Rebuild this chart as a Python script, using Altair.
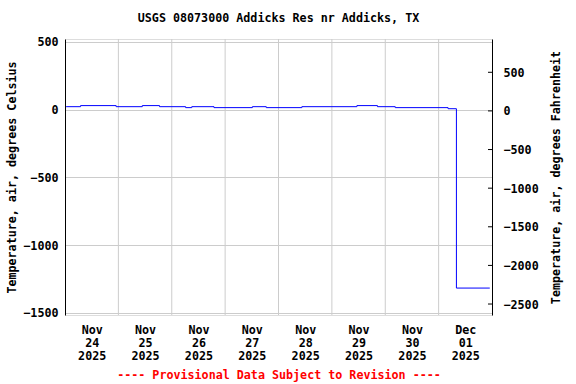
import altair as alt
import pandas as pd

# ---- data ----
times = [
    "2025-11-24T00:30:00", "2025-11-24T07:00:00", "2025-11-24T23:00:00",
    "2025-11-25T10:45:00", "2025-11-25T18:30:00", "2025-11-26T06:15:00",
    "2025-11-26T09:00:00", "2025-11-26T19:00:00", "2025-11-27T12:15:00",
    "2025-11-27T18:30:00", "2025-11-28T10:30:00", "2025-11-29T11:15:00",
    "2025-11-29T20:30:00", "2025-11-30T04:30:00", "2025-12-01T04:15:00",
    "2025-12-01T08:00:00", "2025-12-01T23:00:00",
]
temps_c = [22, 30, 22, 30, 22, 15, 22, 15, 22, 15, 22, 30, 22, 15, 7, -1318, -1318]

day_bounds = ["2025-11-25T00:00:00", "2025-11-26T00:00:00", "2025-11-27T00:00:00",
              "2025-11-28T00:00:00", "2025-11-29T00:00:00", "2025-11-30T00:00:00",
              "2025-12-01T00:00:00"]
label_days = [24, 25, 26, 27, 28, 29, 30]  # Nov, plus Dec 1
c_ticks = [-1500, -1000, -500, 0, 500]
f_ticks = [-2500, -2000, -1500, -1000, -500, 0, 500]
c_domain = [-1517, 522]
f_domain = [-2642, 931]

FONT = "DejaVu Sans Mono"
FS = 11.7
W, H = 427, 276

df = pd.DataFrame({"time": times, "temp": temps_c})
grid_df = pd.DataFrame({"t": day_bounds})
ftick_df = pd.DataFrame({"f": f_ticks})

x_domain = [alt.DateTime(year=2025, month=11, date=24, hours=0),
            alt.DateTime(year=2025, month=12, date=2, hours=0)]
x_values = [alt.DateTime(year=2025, month=11, date=d, hours=12) for d in label_days] + \
           [alt.DateTime(year=2025, month=12, date=1, hours=12)]

x_enc = alt.X(
    "time:T",
    scale=alt.Scale(domain=x_domain),
    axis=alt.Axis(
        values=x_values,
        labelExpr="[timeFormat(datum.value, '%b'), timeFormat(datum.value, '%d'), timeFormat(datum.value, '%Y')]",
        grid=False, ticks=False, domain=False,
        labelFont=FONT, labelFontSize=FS, labelFontWeight="bold", labelColor="black",
        labelLineHeight=13, labelPadding=9, labelBaseline="top", labelAngle=0,
        title="---- Provisional Data Subject to Revision ----",
        titleFont=FONT, titleFontSize=FS, titleFontWeight="bold", titleColor="red",
        titlePadding=8,
    ),
)

vgrid = alt.Chart(grid_df).mark_rule(color="#cccccc", strokeWidth=1).encode(
    x=alt.X("t:T", scale=alt.Scale(domain=x_domain))
)

line = alt.Chart(df).mark_line(color="#0000ff", strokeWidth=1, interpolate="step-after").encode(
    x=x_enc,
    y=alt.Y(
        "temp:Q",
        scale=alt.Scale(domain=c_domain, nice=False, zero=False),
        axis=alt.Axis(
            values=c_ticks, grid=True, gridColor="#cccccc", ticks=False,
            domainColor="black", orient="left", format="d",
            labelFont=FONT, labelFontSize=FS, labelFontWeight="bold", labelColor="black",
            labelPadding=7,
            title="Temperature, air, degrees Celsius",
            titleFont=FONT, titleFontSize=FS, titleFontWeight="bold", titleColor="black",
            titlePadding=5,
        ),
    ),
)

left_layer = alt.layer(vgrid, line)

right = alt.Chart(ftick_df).mark_rule(color="black", strokeWidth=1).encode(
    x=alt.value(W - 4), x2=alt.value(W),
    y=alt.Y(
        "f:Q",
        scale=alt.Scale(domain=f_domain, nice=False, zero=False),
        axis=alt.Axis(
            values=f_ticks, grid=False, ticks=False, orient="right",
            domainColor="black", format="d",
            labelExpr="(datum.value >= 0 ? '\u00a0' : '') + datum.label",
            labelFont=FONT, labelFontSize=FS, labelFontWeight="bold", labelColor="black",
            labelPadding=11, labelAlign="left",
            title="Temperature, air, degrees Fahrenheit",
            titleFont=FONT, titleFontSize=FS, titleFontWeight="bold", titleColor="black",
            titleAngle=270, titlePadding=23,
        ),
    ),
)

chart = alt.layer(left_layer, right).resolve_scale(y="independent").properties(
    width=W, height=H,
    title=alt.TitleParams(
        "USGS 08073000 Addicks Res nr Addicks, TX",
        font=FONT, fontSize=FS, fontWeight="bold", color="black", offset=12,
    ),
    autosize=alt.AutoSizeParams(type="none"),
    padding={"left": 65, "top": 39, "right": 84, "bottom": 69},
).configure_view(stroke="black", strokeWidth=1).configure(background="white")

chart.save("out.html", embed_options={"renderer": "svg", "actions": False})
